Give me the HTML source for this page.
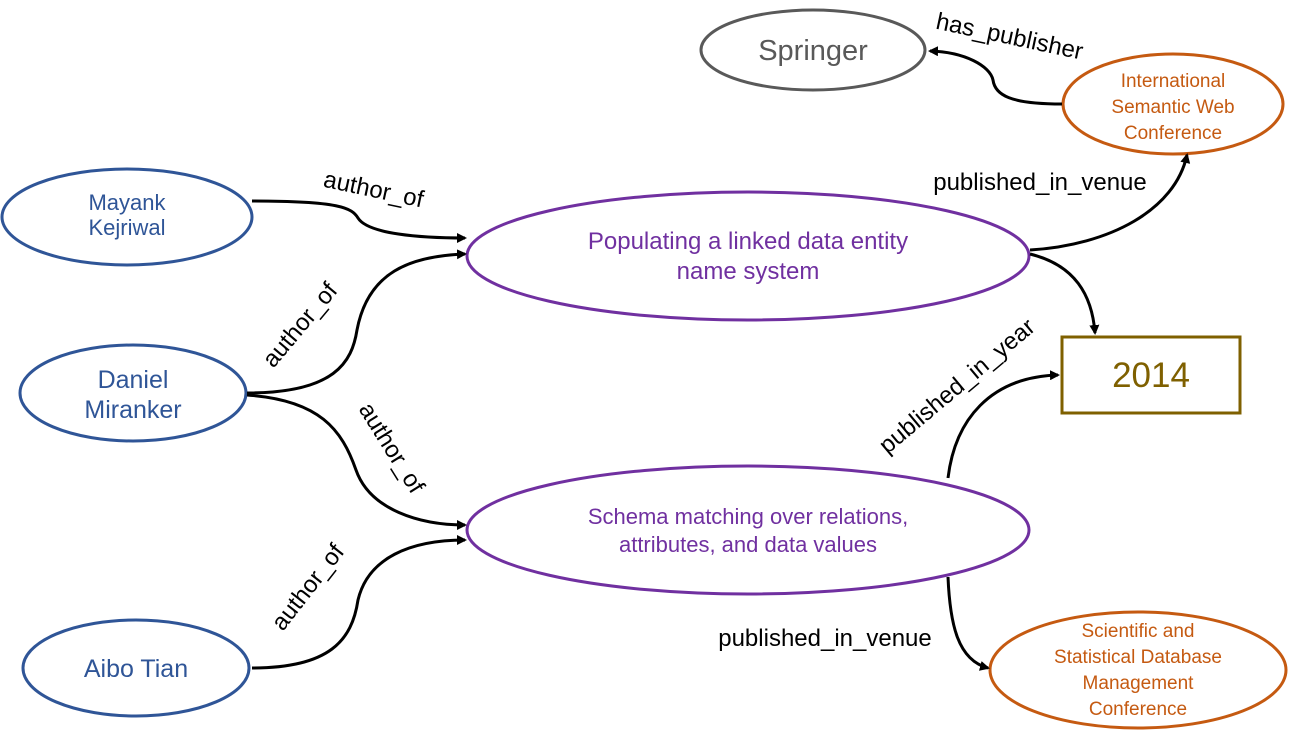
<!DOCTYPE html>
<html><head><style>body{margin:0;background:#fff}svg{display:block}text{font-family:"Liberation Sans",sans-serif}</style></head>
<body>
<svg width="1291" height="735" viewBox="0 0 1291 735" xmlns="http://www.w3.org/2000/svg">
<defs><marker id="a" markerWidth="10" markerHeight="10" refX="8" refY="5" orient="auto" markerUnits="userSpaceOnUse"><path d="M0,0 L10,5 L0,10 z" fill="#000"/></marker></defs>
<g fill="none" stroke-width="3">
<ellipse cx="813" cy="50" rx="112" ry="40" stroke="#595959"/>
<ellipse cx="1173" cy="104" rx="110" ry="50" stroke="#c55a11"/>
<ellipse cx="127" cy="217" rx="125" ry="48" stroke="#2f5597"/>
<ellipse cx="133" cy="393" rx="113" ry="48" stroke="#2f5597"/>
<ellipse cx="136" cy="668" rx="113" ry="48" stroke="#2f5597"/>
<ellipse cx="748" cy="256" rx="281" ry="64" stroke="#7030a0"/>
<ellipse cx="748" cy="530" rx="281" ry="64" stroke="#7030a0"/>
<ellipse cx="1138" cy="670" rx="148" ry="58" stroke="#c55a11"/>
<rect x="1062" y="337" width="178" height="76" stroke="#7f6000"/>
</g>
<g fill="none" stroke="#000" stroke-width="3" marker-end="url(#a)">
<path d="M252,201 C340,201 352,208 358,218 C368,234 420,238 465,238"/>
<path d="M247,393 C335,393 352,362 357,330 C368,272 410,256 465,254"/>
<path d="M247,395 C320,400 342,430 356,470 C370,510 420,525 465,525"/>
<path d="M252,668 C330,668 352,640 358,600 C368,558 410,540 465,540"/>
<path d="M1030,250 C1110,245 1175,210 1187,155"/>
<path d="M1030,254 C1075,265 1092,295 1095,333"/>
<path d="M948,478 C955,420 990,377 1058,375"/>
<path d="M948,577 C950,625 958,660 988,668"/>
<path d="M1062,104 C1010,104 995,95 993,80 C990,66 965,52 930,51"/>
</g>
<g text-anchor="middle">
<text x="813" y="60" fill="#595959" font-size="29">Springer</text>
<text x="1151" y="387" fill="#7f6000" font-size="35">2014</text>
</g>
<g text-anchor="middle" fill="#2f5597">
<text x="127" y="210" font-size="22">Mayank</text><text x="127" y="235" font-size="22">Kejriwal</text>
<text x="133" y="388" font-size="25">Daniel</text><text x="133" y="418" font-size="25">Miranker</text>
<text x="136" y="677" font-size="25">Aibo Tian</text>
</g>
<g text-anchor="middle" fill="#7030a0">
<text x="748" y="249" font-size="24">Populating a linked data entity</text><text x="748" y="279" font-size="24">name system</text>
<text x="748" y="524" font-size="22">Schema matching over relations,</text><text x="748" y="552" font-size="22">attributes, and data values</text>
</g>
<g font-size="19" text-anchor="middle" fill="#c55a11">
<text x="1173" y="87">International</text><text x="1173" y="113">Semantic Web</text><text x="1173" y="139">Conference</text>
<text x="1138" y="637">Scientific and</text><text x="1138" y="663">Statistical Database</text><text x="1138" y="689">Management</text><text x="1138" y="715">Conference</text>
</g>
<g font-size="24" fill="#000" text-anchor="middle">
<text transform="translate(372,197) rotate(12)">author_of</text>
<text transform="translate(306,330) rotate(-50)">author_of</text>
<text transform="translate(385,452) rotate(58)">author_of</text>
<text transform="translate(314,592) rotate(-52)">author_of</text>
<text transform="translate(1008,44) rotate(12)">has_publisher</text>
<text x="1040" y="190">published_in_venue</text>
<text transform="translate(962,392) rotate(-40)">published_in_year</text>
<text x="825" y="646">published_in_venue</text>
</g>
</svg>
</body></html>
